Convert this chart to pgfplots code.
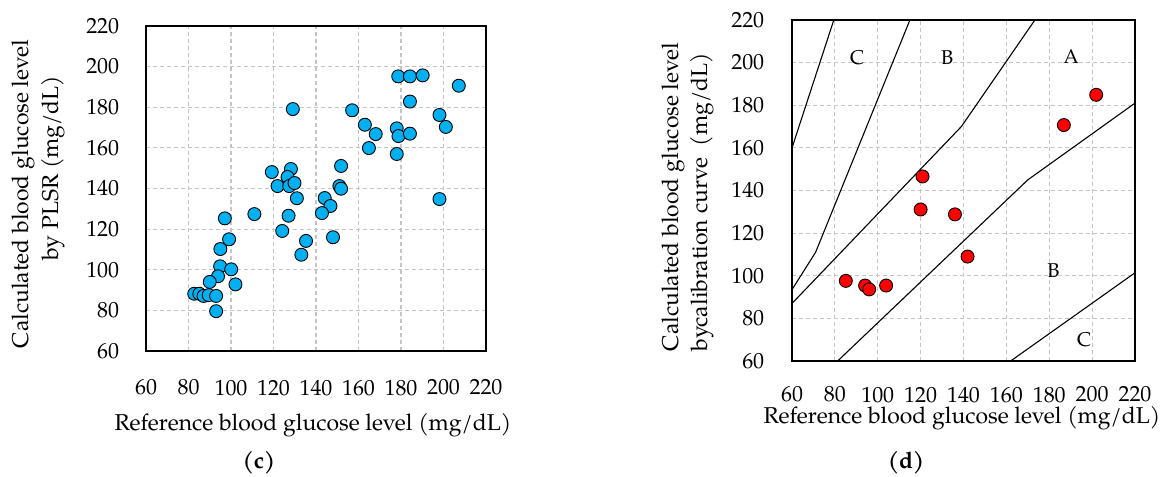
\documentclass[border=0pt]{standalone}
\usepackage{fontspec}
\setmainfont{TeX Gyre Pagella}
\usepackage{pgfplots}
\pgfplotsset{compat=1.18}

\definecolor{ptblue}{RGB}{0,176,240}
\definecolor{gridgray}{RGB}{196,196,196}

\pgfplotsset{
  glucose/.style={
    scale only axis,
    xmin=60, xmax=220, ymin=60, ymax=220,
    xtick={60,80,...,220}, ytick={60,80,...,220},
    /pgf/number format/assume math mode=true,
    tick label style={font=\fontsize{22}{24}\selectfont},
    major tick length=0pt,
    grid=major,
    major grid style={gridgray, line width=1.2bp, dash pattern=on 4bp off 3bp},
    axis line style={line width=2.6bp},
  },
}

\begin{document}
\begin{tikzpicture}
\useasboundingbox (0,0) rectangle (1162bp,-477bp);
\fontsize{23}{26}\selectfont

% (c) PLSR
\begin{axis}[glucose,
  at={(146bp,-351bp)}, anchor=south west,
  width=340bp, height=325bp,
  xticklabel style={yshift=-21bp},
  yticklabel style={xshift=-19bp},
]
\addplot[only marks, mark=*, mark size=6.5bp,
  mark options={fill=ptblue, draw=black, line width=0.9bp}]
coordinates {
  (178.7,195.2) (184.2,195.2) (190.2,195.7) (207.2,190.6) (184.2,182.8)
  (129.1,179.1) (157.0,178.5) (198.1,176.2) (163.0,171.4) (201.1,170.3)
  (168.1,166.8) (178.0,169.6) (178.8,165.8) (184.2,167.0) (164.9,159.9)
  (178.0,157.0) (151.8,151.1) (119.2,148.1) (128.2,149.6) (126.6,145.7)
  (121.9,141.2) (127.4,141.2) (129.9,142.7) (131.0,135.2) (151.0,141.2)
  (151.8,139.9) (198.1,134.8) (144.1,135.3) (146.8,131.4) (142.8,127.9)
  (97.1,125.3) (111.0,127.4) (127.1,126.6) (124.1,119.1) (135.3,114.2)
  (148.0,116.0) (133.1,107.4) (99.1,115.0) (95.0,110.2) (94.9,101.7)
  (100.1,100.2) (93.9,96.8) (90.0,94.0) (102.1,92.8) (82.7,88.2)
  (85.1,88.2) (87.1,87.1) (89.5,87.5) (93.0,87.1) (93.0,79.6)
};
\end{axis}

\node[rotate=90] at (23.5bp,-194bp) {Calculated blood glucose level};
\node[rotate=90] at (53.5bp,-168bp) {by PLSR (mg/dL)};
\node[anchor=base] at (313bp,-430bp) {Reference blood glucose level (mg/dL)};
\node[anchor=base] at (259bp,-468bp) {\textbf{(c)}};

% (d) calibration curve, error grid
\begin{axis}[glucose,
  at={(792bp,-361bp)}, anchor=south west,
  width=343bp, height=341bp,
  xticklabel style={yshift=-18bp},
  yticklabel style={xshift=-20bp},
]
\addplot[black, line width=1.1bp, no marks] coordinates {(60,87) (139,170) (173.3,220)};
\addplot[black, line width=1.1bp, no marks] coordinates {(81.3,60) (170,145) (220,181)};
\addplot[black, line width=1.1bp, no marks] coordinates {(60,93.5) (71,111) (115,220)};
\addplot[black, line width=1.1bp, no marks] coordinates {(60,160) (79.5,220)};
\addplot[black, line width=1.1bp, no marks] coordinates {(162,60) (220,101.4)};
\addplot[only marks, mark=*, mark size=6.5bp,
  mark options={fill=red, draw=black, line width=0.9bp}]
coordinates {
  (201.9,184.9) (186.8,170.7) (120.9,146.6) (120.0,131.1) (136.0,128.8)
  (141.9,109.0) (85.1,97.6) (94.1,95.4) (96.0,93.6) (103.9,95.4)
};
\node[font=\fontsize{20}{22}\selectfont] at (axis cs:90.4,202.5) {C};
\node[font=\fontsize{20}{22}\selectfont] at (axis cs:132.4,202.5) {B};
\node[font=\fontsize{20}{22}\selectfont] at (axis cs:190.2,202.8) {A};
\node[font=\fontsize{20}{22}\selectfont] at (axis cs:182,102.6) {B};
\node[font=\fontsize{20}{22}\selectfont] at (axis cs:196.3,70.1) {C};
\end{axis}

\node[rotate=90] at (673.5bp,-197bp) {Calculated blood glucose level};
\node[rotate=90] at (702.5bp,-202bp) {bycalibration curve\ \ (mg/dL)};
\node[anchor=base] at (962bp,-423bp) {Reference blood glucose level (mg/dL)};
\node[anchor=base] at (906bp,-468bp) {\textbf{(d)}};
\end{tikzpicture}
\end{document}
